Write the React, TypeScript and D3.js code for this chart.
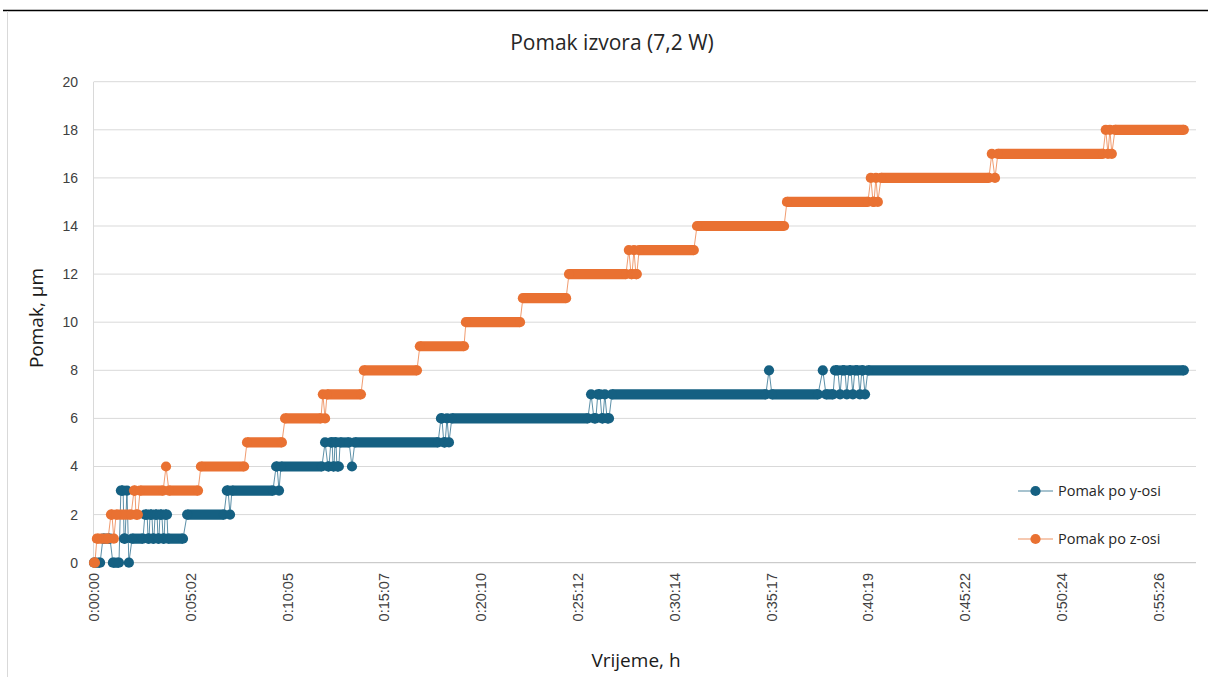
import React from "react";
import * as d3 from "d3";

// ---- data (time in seconds, displacement in µm) ----
// Each run: [startSec, endSec, value] — consecutive samples with the same reading
const seriesNames = ["Pomak po y-osi", "Pomak po z-osi"];

const yRuns: [number, number, number][] = [
  [0, 19, 0], [28, 50, 1], [59, 78, 0], [84, 91, 3], [94, 97, 1], [103, 103, 3],
  [109, 109, 0], [119, 153, 1], [159, 166, 2], [169, 172, 1], [175, 181, 2],
  [184, 187, 1], [191, 197, 2], [200, 203, 1], [206, 212, 2], [216, 219, 1],
  [222, 228, 2], [231, 278, 1],
  [291, 406, 2], [415, 419, 3], [425, 425, 2], [431, 559, 3], [569, 572, 4],
  [578, 578, 3], [584, 712, 4], [722, 722, 5], [731, 734, 4], [740, 744, 5],
  [747, 750, 4], [753, 756, 5], [759, 765, 4], [769, 797, 5], [806, 806, 4],
  [815, 1075, 5], [1084, 1087, 6],
  [1093, 1097, 5], [1103, 1103, 6], [1109, 1109, 5], [1118, 1543, 6],
  [1553, 1553, 7], [1562, 1568, 6], [1574, 1581, 7], [1587, 1590, 6],
  [1596, 1596, 7], [1603, 1609, 6], [1618, 2099, 7], [2109, 2109, 8],
  [2118, 2262, 7], [2277, 2277, 8], [2287, 2309, 7], [2315, 2324, 8],
  [2331, 2331, 7], [2337, 2346, 8], [2352, 2352, 7], [2359, 2365, 8],
  [2371, 2371, 7], [2377, 2387, 8], [2393, 2393, 7], [2399, 2402, 8],
  [2409, 2409, 7], [2418, 3405, 8],
];

const zRuns: [number, number, number][] = [
  [0, 3, 0], [9, 44, 1], [53, 56, 2], [62, 62, 1], [69, 116, 2], [125, 128, 3],
  [131, 137, 2], [144, 216, 3], [225, 225, 4], [234, 325, 3], [334, 469, 4],
  [478, 587, 5], [597, 709, 6], [715, 715, 7], [722, 722, 6], [728, 834, 7],
  [843, 1009, 8], [1018, 1156, 9], [1162, 1331, 10], [1340, 1475, 11],
  [1484, 1662, 12], [1671, 1671, 13], [1678, 1681, 12], [1687, 1687, 13],
  [1693, 1696, 12], [1703, 1874, 13], [1884, 2156, 14], [2165, 2418, 15],
  [2427, 2427, 16], [2434, 2437, 15], [2443, 2443, 16], [2449, 2449, 15],
  [2459, 2796, 16], [2805, 2805, 17], [2815, 2815, 16], [2824, 3152, 17],
  [3161, 3161, 18], [3168, 3168, 17], [3174, 3174, 18], [3180, 3180, 17],
  [3190, 3405, 18],
];

const xTickSeconds = [0, 302, 605, 907, 1210, 1512, 1814, 2117, 2419, 2722, 3024, 3326];
const xTickLabels = [
  "0:00:00", "0:05:02", "0:10:05", "0:15:07", "0:20:10", "0:25:12",
  "0:30:14", "0:35:17", "0:40:19", "0:45:22", "0:50:24", "0:55:26",
];
const yTicks = [0, 2, 4, 6, 8, 10, 12, 14, 16, 18, 20];

const title = "Pomak izvora (7,2 W)";
const xTitle = "Vrijeme, h";
const yTitle = "Pomak, µm";

const colors = ["#156082", "#E97132"];

export default function App() {
  const W = 1208;
  const H = 677;
  const x = d3.scaleLinear().domain([0, 3443]).range([94, 1196]);
  const y = d3.scaleLinear().domain([0, 20]).range([562.7, 81.7]);
  const R = 5.1;
  const tickFont = "'Liberation Sans', Arial, sans-serif";
  const titleFont = "'Open Sans', 'Noto Sans', sans-serif";

  const line = d3
    .line<[number, number]>()
    .x((d) => x(d[0]))
    .y((d) => y(d[1]));

  const renderSeries = (runs: [number, number, number][], color: string, key: string) => {
    const pts: [number, number][] = runs.flatMap(([s, e, v]) => [
      [s, v] as [number, number],
      [e, v] as [number, number],
    ]);
    return (
      <g key={key}>
        <path d={line(pts) || ""} fill="none" stroke={color} strokeOpacity={0.7} strokeWidth={1} />
        {runs.map(([s, e, v], i) => (
          <g key={i}>
            {e > s && (
              <line x1={x(s)} x2={x(e)} y1={y(v)} y2={y(v)} stroke={color} strokeWidth={2 * R} />
            )}
            <circle cx={x(s)} cy={y(v)} r={R} fill={color} />
            {e > s && <circle cx={x(e)} cy={y(v)} r={R} fill={color} />}
          </g>
        ))}
      </g>
    );
  };

  const legendY = [491, 539];

  return (
    <svg
      width={W}
      height={H}
      style={{ position: "absolute", left: 0, top: 0, background: "#fff" }}
    >
      {/* page header rule and chart border */}
      <line x1={3} x2={W} y1={10.5} y2={10.5} stroke="#000" strokeWidth={1.5} />
      <line x1={7.5} x2={7.5} y1={11} y2={H} stroke="#d9d9d9" strokeWidth={1} />

      {/* gridlines */}
      {yTicks.map((t) => (
        <line
          key={t}
          x1={94}
          x2={1196}
          y1={y(t)}
          y2={y(t)}
          stroke={t === 0 ? "#bfbfbf" : "#d9d9d9"}
          strokeWidth={1}
        />
      ))}
      <line x1={93.5} x2={93.5} y1={y(20)} y2={y(0)} stroke="#d9d9d9" strokeWidth={1} />

      {/* y tick labels */}
      {yTicks.map((t) => (
        <text
          key={t}
          x={78}
          y={y(t)}
          dy="0.35em"
          textAnchor="end"
          fontFamily={tickFont}
          fontSize={14}
          fill="#404040"
        >
          {t}
        </text>
      ))}

      {/* x tick labels */}
      {xTickSeconds.map((t, i) => (
        <text
          key={t}
          transform={`translate(${x(t)},573) rotate(-90)`}
          dy="0.35em"
          textAnchor="end"
          fontFamily={tickFont}
          fontSize={14.5}
          fill="#404040"
        >
          {xTickLabels[i]}
        </text>
      ))}

      {/* series */}
      {renderSeries(yRuns, colors[0], "y")}
      {renderSeries(zRuns, colors[1], "z")}

      {/* titles */}
      <text x={612} y={50} textAnchor="middle" fontFamily={titleFont} fontSize={21} fill="#262626">
        {title}
      </text>
      <text x={636} y={667} textAnchor="middle" fontFamily={titleFont} fontSize={19} fill="#1a1a1a">
        {xTitle}
      </text>
      <text
        transform="translate(43,318) rotate(-90)"
        textAnchor="middle"
        fontFamily={titleFont}
        fontSize={19}
        fill="#1a1a1a"
      >
        {yTitle}
      </text>

      {/* legend */}
      {seriesNames.map((name, i) => (
        <g key={name}>
          <line
            x1={1018}
            x2={1053}
            y1={legendY[i]}
            y2={legendY[i]}
            stroke={colors[i]}
            strokeOpacity={0.5}
            strokeWidth={1.5}
          />
          <circle cx={1035.5} cy={legendY[i]} r={R} fill={colors[i]} />
          <text
            x={1058}
            y={legendY[i]}
            dy="0.35em"
            fontFamily={titleFont}
            fontSize={14.5}
            fill="#262626"
          >
            {name}
          </text>
        </g>
      ))}
    </svg>
  );
}
